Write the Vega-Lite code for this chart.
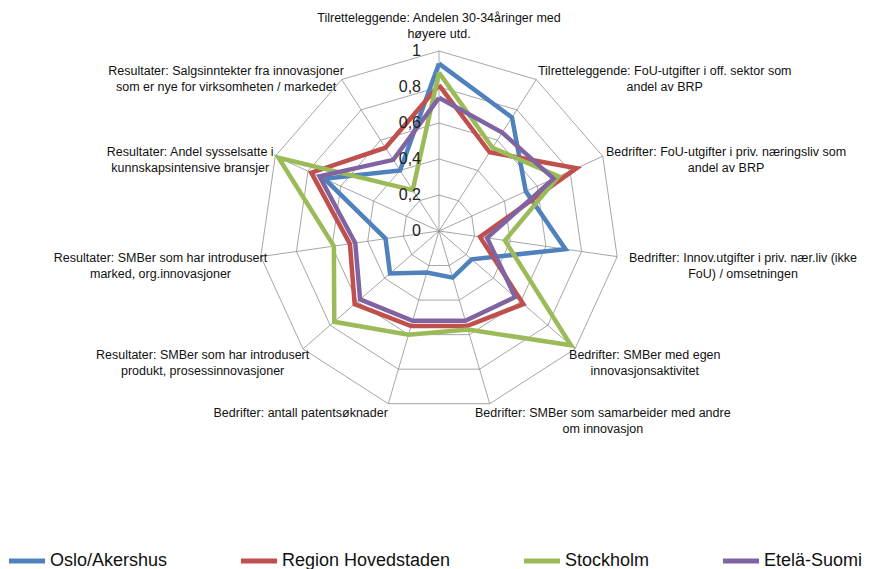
{
  "$schema": "https://vega.github.io/schema/vega-lite/v6.json",
  "width": 869,
  "height": 569,
  "autosize": {"type": "none"},
  "padding": 0,
  "background": "white",
  "config": {"view": {"stroke": null}, "font": "Liberation Sans"},
  "datasets": {
    "grid": [
      {"ring":0.2,"k":0},{"ring":0.2,"k":1},{"ring":0.2,"k":2},{"ring":0.2,"k":3},{"ring":0.2,"k":4},{"ring":0.2,"k":5},{"ring":0.2,"k":6},{"ring":0.2,"k":7},{"ring":0.2,"k":8},{"ring":0.2,"k":9},{"ring":0.2,"k":10},{"ring":0.2,"k":11},
      {"ring":0.4,"k":0},{"ring":0.4,"k":1},{"ring":0.4,"k":2},{"ring":0.4,"k":3},{"ring":0.4,"k":4},{"ring":0.4,"k":5},{"ring":0.4,"k":6},{"ring":0.4,"k":7},{"ring":0.4,"k":8},{"ring":0.4,"k":9},{"ring":0.4,"k":10},{"ring":0.4,"k":11},
      {"ring":0.6,"k":0},{"ring":0.6,"k":1},{"ring":0.6,"k":2},{"ring":0.6,"k":3},{"ring":0.6,"k":4},{"ring":0.6,"k":5},{"ring":0.6,"k":6},{"ring":0.6,"k":7},{"ring":0.6,"k":8},{"ring":0.6,"k":9},{"ring":0.6,"k":10},{"ring":0.6,"k":11},
      {"ring":0.8,"k":0},{"ring":0.8,"k":1},{"ring":0.8,"k":2},{"ring":0.8,"k":3},{"ring":0.8,"k":4},{"ring":0.8,"k":5},{"ring":0.8,"k":6},{"ring":0.8,"k":7},{"ring":0.8,"k":8},{"ring":0.8,"k":9},{"ring":0.8,"k":10},{"ring":0.8,"k":11},
      {"ring":1.0,"k":0},{"ring":1.0,"k":1},{"ring":1.0,"k":2},{"ring":1.0,"k":3},{"ring":1.0,"k":4},{"ring":1.0,"k":5},{"ring":1.0,"k":6},{"ring":1.0,"k":7},{"ring":1.0,"k":8},{"ring":1.0,"k":9},{"ring":1.0,"k":10},{"ring":1.0,"k":11}
    ],
    "spokes": [
      {"k":0},{"k":1},{"k":2},{"k":3},{"k":4},{"k":5},{"k":6},{"k":7},{"k":8},{"k":9},{"k":10}
    ],
    "series": [
      {"s":"Oslo/Akershus","k":0,"v":0.93},{"s":"Oslo/Akershus","k":1,"v":0.75},{"s":"Oslo/Akershus","k":2,"v":0.53},{"s":"Oslo/Akershus","k":3,"v":0.71},{"s":"Oslo/Akershus","k":4,"v":0.24},{"s":"Oslo/Akershus","k":5,"v":0.27},{"s":"Oslo/Akershus","k":6,"v":0.24},{"s":"Oslo/Akershus","k":7,"v":0.36},{"s":"Oslo/Akershus","k":8,"v":0.30},{"s":"Oslo/Akershus","k":9,"v":0.70},{"s":"Oslo/Akershus","k":10,"v":0.40},{"s":"Oslo/Akershus","k":11,"v":0.93},
      {"s":"Region Hovedstaden","k":0,"v":0.81},{"s":"Region Hovedstaden","k":1,"v":0.52},{"s":"Region Hovedstaden","k":2,"v":0.84},{"s":"Region Hovedstaden","k":3,"v":0.23},{"s":"Region Hovedstaden","k":4,"v":0.62},{"s":"Region Hovedstaden","k":5,"v":0.55},{"s":"Region Hovedstaden","k":6,"v":0.55},{"s":"Region Hovedstaden","k":7,"v":0.62},{"s":"Region Hovedstaden","k":8,"v":0.50},{"s":"Region Hovedstaden","k":9,"v":0.78},{"s":"Region Hovedstaden","k":10,"v":0.55},{"s":"Region Hovedstaden","k":11,"v":0.81},
      {"s":"Stockholm","k":0,"v":0.88},{"s":"Stockholm","k":1,"v":0.55},{"s":"Stockholm","k":2,"v":0.73},{"s":"Stockholm","k":3,"v":0.37},{"s":"Stockholm","k":4,"v":0.97},{"s":"Stockholm","k":5,"v":0.57},{"s":"Stockholm","k":6,"v":0.60},{"s":"Stockholm","k":7,"v":0.77},{"s":"Stockholm","k":8,"v":0.59},{"s":"Stockholm","k":9,"v":0.98},{"s":"Stockholm","k":10,"v":0.27},{"s":"Stockholm","k":11,"v":0.88},
      {"s":"Etelä-Suomi","k":0,"v":0.74},{"s":"Etelä-Suomi","k":1,"v":0.65},{"s":"Etelä-Suomi","k":2,"v":0.70},{"s":"Etelä-Suomi","k":3,"v":0.27},{"s":"Etelä-Suomi","k":4,"v":0.56},{"s":"Etelä-Suomi","k":5,"v":0.52},{"s":"Etelä-Suomi","k":6,"v":0.52},{"s":"Etelä-Suomi","k":7,"v":0.58},{"s":"Etelä-Suomi","k":8,"v":0.47},{"s":"Etelä-Suomi","k":9,"v":0.73},{"s":"Etelä-Suomi","k":10,"v":0.47},{"s":"Etelä-Suomi","k":11,"v":0.74}
    ],
    "ticks": [
      {"v":0,"t":"0"},{"v":0.2,"t":"0,2"},{"v":0.4,"t":"0,4"},{"v":0.6,"t":"0,6"},{"v":0.8,"t":"0,8"},{"v":1,"t":"1"}
    ],
    "labels": [
      {"k":0,"label":"Tilretteleggende: Andelen 30-34åringer med|høyere utd."},
      {"k":1,"label":"Tilretteleggende: FoU-utgifter i off. sektor som|andel av BRP"},
      {"k":2,"label":"Bedrifter: FoU-utgifter i priv. næringsliv som|andel av BRP"},
      {"k":3,"label":"Bedrifter: Innov.utgifter i priv. nær.liv (ikke|FoU) / omsetningen"},
      {"k":4,"label":"Bedrifter: SMBer med egen|innovasjonsaktivitet"},
      {"k":5,"label":"Bedrifter: SMBer som samarbeider med andre|om innovasjon"},
      {"k":6,"label":"Bedrifter: antall patentsøknader"},
      {"k":7,"label":"Resultater: SMBer som har introdusert|produkt, prosessinnovasjoner"},
      {"k":8,"label":"Resultater: SMBer som har introdusert|marked, org.innovasjoner"},
      {"k":9,"label":"Resultater: Andel sysselsatte i|kunnskapsintensive bransjer"},
      {"k":10,"label":"Resultater: Salgsinntekter fra innovasjoner|som er nye for virksomheten / markedet"}
    ]
  },
  "layer": [
    {
      "data": {"name": "grid"},
      "transform": [
        {"calculate": "datum.k * 2 * PI / 11", "as": "theta"},
        {"calculate": "datum.ring * sin(datum.theta)", "as": "x"},
        {"calculate": "datum.ring * cos(datum.theta)", "as": "y"}
      ],
      "mark": {"type": "line", "stroke": "#8f8f8f", "strokeWidth": 0.8},
      "encoding": {
        "x": {"field": "x", "type": "quantitative", "scale": {"domain": [-2.43889, 2.38889], "nice": false, "zero": false}, "axis": null},
        "y": {"field": "y", "type": "quantitative", "scale": {"domain": [-1.87778, 1.28333], "nice": false, "zero": false}, "axis": null},
        "detail": {"field": "ring", "type": "nominal"},
        "order": {"field": "k", "type": "quantitative"}
      }
    },
    {
      "data": {"name": "spokes"},
      "transform": [
        {"calculate": "datum.k * 2 * PI / 11", "as": "theta"},
        {"calculate": "sin(datum.theta)", "as": "x"},
        {"calculate": "cos(datum.theta)", "as": "y"}
      ],
      "mark": {"type": "rule", "stroke": "#8f8f8f", "strokeWidth": 0.8},
      "encoding": {
        "x": {"field": "x", "type": "quantitative", "scale": {"domain": [-2.43889, 2.38889], "nice": false, "zero": false}, "axis": null},
        "y": {"field": "y", "type": "quantitative", "scale": {"domain": [-1.87778, 1.28333], "nice": false, "zero": false}, "axis": null},
        "x2": {"datum": 0},
        "y2": {"datum": 0}
      }
    },
    {
      "data": {"name": "series"},
      "transform": [
        {"calculate": "datum.k * 2 * PI / 11", "as": "theta"},
        {"calculate": "datum.v * sin(datum.theta)", "as": "x"},
        {"calculate": "datum.v * cos(datum.theta)", "as": "y"}
      ],
      "mark": {"type": "line", "strokeWidth": 4.5, "strokeJoin": "miter"},
      "encoding": {
        "x": {"field": "x", "type": "quantitative", "scale": {"domain": [-2.43889, 2.38889], "nice": false, "zero": false}, "axis": null},
        "y": {"field": "y", "type": "quantitative", "scale": {"domain": [-1.87778, 1.28333], "nice": false, "zero": false}, "axis": null},
        "order": {"field": "k", "type": "quantitative"},
        "color": {
          "field": "s", "type": "nominal",
          "scale": {"domain": ["Oslo/Akershus", "Region Hovedstaden", "Stockholm", "Etelä-Suomi"], "range": ["#4F81BD", "#C0504D", "#9BBB59", "#8064A2"]},
          "legend": {
            "orient": "none", "legendX": 6, "legendY": 540, "direction": "horizontal", "columns": 4,
            "title": null, "symbolType": "stroke", "symbolSize": 1300, "symbolStrokeWidth": 5,
            "labelFontSize": 18, "labelFont": "Liberation Sans", "labelColor": "#111111", "labelLimit": 400,
            "columnPadding": 62, "labelOffset": 2, "padding": 0
          }
        }
      }
    },
    {
      "data": {"name": "ticks"},
      "mark": {"type": "text", "align": "right", "baseline": "middle", "dx": -18, "fontSize": 16, "color": "#222222"},
      "encoding": {
        "x": {"datum": 0, "type": "quantitative", "scale": {"domain": [-2.43889, 2.38889], "nice": false, "zero": false}, "axis": null},
        "y": {"field": "v", "type": "quantitative", "scale": {"domain": [-1.87778, 1.28333], "nice": false, "zero": false}, "axis": null},
        "text": {"field": "t", "type": "nominal"}
      }
    },
    {
      "data": {"name": "labels"},
      "transform": [
        {"calculate": "datum.k * 2 * PI / 11", "as": "theta"},
        {"calculate": "sin(datum.theta)", "as": "s"},
        {"calculate": "cos(datum.theta)", "as": "c"},
        {"calculate": "split(datum.label, '|')[0]", "as": "l1"},
        {"calculate": "split(datum.label, '|')[1] || ''", "as": "l2"},
        {"calculate": "max(length(datum.l1), length(datum.l2)) * 2.55", "as": "hw"},
        {"calculate": "datum.s + (datum.s > 0.05 ? (6 + datum.hw) : (datum.s < -0.05 ? -(6 + datum.hw) : 0)) / 180", "as": "lx"},
        {"calculate": "datum.c + (10 * datum.c + (abs(datum.s) < 0.05 ? 23 : 0)) / 180", "as": "ly"}
      ],
      "mark": {"type": "text", "align": "center", "baseline": "middle", "fontSize": 12.5, "lineHeight": 16, "lineBreak": "|", "color": "#111111"},
      "encoding": {
        "x": {"field": "lx", "type": "quantitative", "scale": {"domain": [-2.43889, 2.38889], "nice": false, "zero": false}, "axis": null},
        "y": {"field": "ly", "type": "quantitative", "scale": {"domain": [-1.87778, 1.28333], "nice": false, "zero": false}, "axis": null},
        "text": {"field": "label", "type": "nominal"}
      }
    }
  ]
}
